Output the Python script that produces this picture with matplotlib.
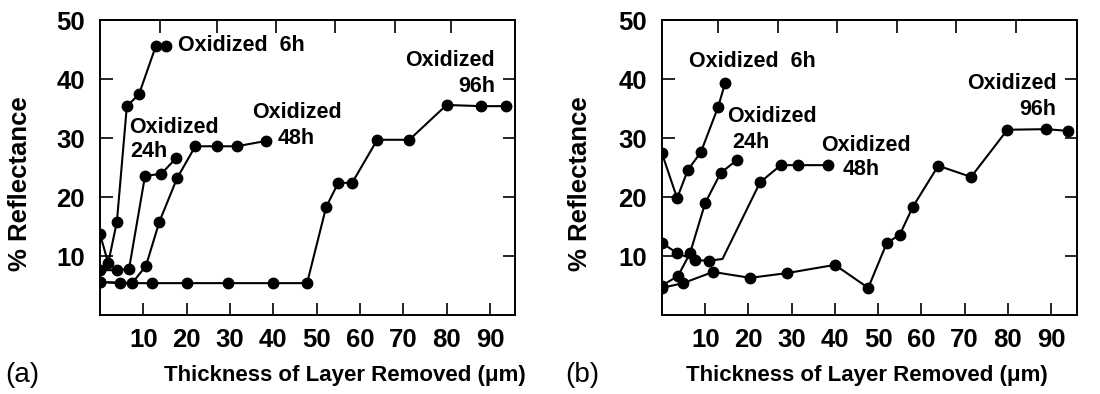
import matplotlib
matplotlib.use('Agg')
import matplotlib.pyplot as plt

plt.rcParams['font.family'] = ['Liberation Sans', 'DejaVu Sans']

# ---- panel (a) data: thickness removed (um) vs % reflectance ----
a_6h_x = [0, 1.9, 3.9, 6.2, 9.0, 12.9, 15.2]
a_6h_y = [13.7, 8.8, 15.8, 35.4, 37.4, 45.6, 45.6]
a_24h_x = [0, 3.9, 6.7, 10.4, 14.1, 17.6]
a_24h_y = [7.6, 7.6, 7.8, 23.6, 23.9, 26.6]
a_48h_x = [0, 7.4, 10.6, 13.7, 17.8, 22.0, 27.0, 31.6, 38.3]
a_48h_y = [5.6, 5.4, 8.3, 15.8, 23.2, 28.6, 28.6, 28.6, 29.5]
a_96h_x = [0, 4.6, 12.0, 20.0, 29.6, 40.0, 47.8, 52.2, 55.0, 58.2, 64.0, 71.4, 80.0, 88.0, 93.8]
a_96h_y = [5.6, 5.4, 5.4, 5.4, 5.4, 5.4, 5.4, 18.3, 22.4, 22.4, 29.7, 29.7, 35.6, 35.4, 35.4]

# ---- panel (b) data ----
b_6h_x = [0, 3.5, 6.0, 9.0, 13.0, 14.6]
b_6h_y = [27.4, 19.8, 24.6, 27.6, 35.3, 39.3]
b_24h_x = [0, 3.7, 6.5, 10.0, 13.6, 17.4]
b_24h_y = [5.0, 6.6, 10.5, 19.0, 24.1, 26.3]
b_48h_x = [0, 3.5, 7.6, 10.9, 14.0, 22.7, 27.5, 31.5, 38.4]
b_48h_y = [12.2, 10.5, 9.3, 9.2, 9.5, 22.5, 25.4, 25.4, 25.4]
b_48h_marks = [0, 1, 2, 3, 5, 6, 7, 8]   # the bend at 14 um has no dot
b_96h_x = [0, 4.9, 11.8, 20.4, 28.9, 40.0, 47.7, 52.0, 55.0, 58.0, 63.9, 71.5, 79.9, 88.9, 94.0]
b_96h_y = [4.6, 5.4, 7.3, 6.3, 7.1, 8.5, 4.6, 12.2, 13.6, 18.3, 25.3, 23.4, 31.4, 31.5, 31.2]

x_ticks = [10, 20, 30, 40, 50, 60, 70, 80, 90]
y_ticks = [10, 20, 30, 40, 50]

fig = plt.figure(figsize=(11, 3.94), dpi=100)
ax1 = fig.add_axes([0.0909, 0.2005, 0.3773, 0.7487])
ax2 = fig.add_axes([0.6018, 0.2005, 0.3773, 0.7487])

line_kw = dict(color='black', lw=1.5, marker='o', ms=7.5, mfc='black', mec='black')


def style_axes(ax, xmax, top_ticks):
    ax.set_xlim(0, xmax)
    ax.set_ylim(0, 50)
    for s in ax.spines.values():
        s.set_linewidth(1.4)
    ax.set_xticks(x_ticks)
    ax.set_yticks(y_ticks)
    ax.tick_params(axis='both', direction='in', length=9, width=1.2,
                   labelsize=18.5)
    ax.tick_params(axis='x', pad=9)
    ax.tick_params(axis='y', pad=11, right=True)
    for lab in ax.get_xticklabels() + ax.get_yticklabels():
        lab.set_fontweight('bold')
    # unlabeled ticks along the top edge
    sec = ax.secondary_xaxis('top')
    sec.set_xticks(top_ticks)
    sec.set_xticklabels([])
    sec.tick_params(direction='in', length=9, width=1.2)
    sec.spines['top'].set_linewidth(1.4)


# panel (a)
ax1.plot(a_96h_x, a_96h_y, **line_kw)
ax1.plot(a_48h_x, a_48h_y, **line_kw)
ax1.plot(a_24h_x, a_24h_y, **line_kw)
ax1.plot(a_6h_x, a_6h_y, **line_kw)
style_axes(ax1, 95.8, [13.8, 27.1, 40.7, 54.3, 68, 81])

lab_kw = dict(fontsize=15.5, fontweight='bold', va='center')
ax1.text(18, 45.6, 'Oxidized  6h', ha='left', **lab_kw)
ax1.text(6.7, 31.7, 'Oxidized', ha='left', **lab_kw)
ax1.text(7.0, 27.7, '24h', ha='left', **lab_kw)
ax1.text(35.1, 34.4, 'Oxidized', ha='left', **lab_kw)
ax1.text(40.9, 30.0, '48h', ha='left', **lab_kw)
ax1.text(91.2, 43.2, 'Oxidized', ha='right', **lab_kw)
ax1.text(91.2, 38.8, '96h', ha='right', **lab_kw)

# panel (b)
ax2.plot(b_96h_x, b_96h_y, **line_kw)
ax2.plot(b_48h_x, b_48h_y, markevery=b_48h_marks, **line_kw)
ax2.plot(b_24h_x, b_24h_y, **line_kw)
ax2.plot(b_6h_x, b_6h_y, **line_kw)
style_axes(ax2, 96.0, [13, 26.8, 40.5, 54.4, 68, 82])

ax2.text(6.2, 42.9, 'Oxidized  6h', ha='left', **lab_kw)
ax2.text(15.0, 33.6, 'Oxidized', ha='left', **lab_kw)
ax2.text(16.2, 29.2, '24h', ha='left', **lab_kw)
ax2.text(36.8, 28.8, 'Oxidized', ha='left', **lab_kw)
ax2.text(41.9, 24.6, '48h', ha='left', **lab_kw)
ax2.text(91.2, 39.2, 'Oxidized', ha='right', **lab_kw)
ax2.text(91.2, 34.9, '96h', ha='right', **lab_kw)

# axis titles and panel letters
for xc in (20 / 1100, 580 / 1100):
    fig.text(xc, 0.535, '% Reflectance', rotation=90, ha='center', va='center',
             fontsize=18.5, fontweight='bold')
fig.text(345 / 1100, 0.048, 'Thickness of Layer Removed (μm)', ha='center',
         va='center', fontsize=16, fontweight='bold')
fig.text(867 / 1100, 0.048, 'Thickness of Layer Removed (μm)', ha='center',
         va='center', fontsize=16, fontweight='bold')
fig.text(22 / 1100, 0.048, '(a)', ha='center', va='center', fontsize=20)
fig.text(582 / 1100, 0.048, '(b)', ha='center', va='center', fontsize=20)

fig.savefig('out.png', dpi=100, facecolor='white')
